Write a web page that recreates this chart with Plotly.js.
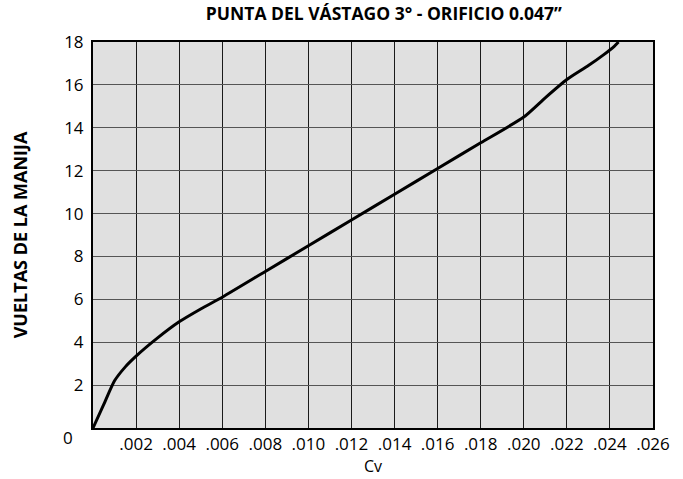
<!DOCTYPE html>
<html>
<head>
<meta charset="utf-8">
<script src="https://cdn.plot.ly/plotly-3.0.1.min.js"></script>
<style>html,body{margin:0;padding:0;background:#fff;}#chart{width:683px;height:479px;}</style>
</head>
<body>
<div id="chart"></div>
<script>
const cv = [0, 0.0005, 0.001, 0.0015, 0.002, 0.003, 0.004, 0.005, 0.006, 0.008, 0.010, 0.012, 0.014, 0.016, 0.018, 0.020, 0.021, 0.022, 0.023, 0.0237, 0.0242, 0.0244];
const vueltas = [0, 1.1, 2.2, 2.85, 3.35, 4.2, 4.95, 5.55, 6.1, 7.3, 8.5, 9.7, 10.9, 12.1, 13.3, 14.5, 15.4, 16.25, 16.9, 17.4, 17.8, 18];
const xTickVals = [0.002, 0.004, 0.006, 0.008, 0.010, 0.012, 0.014, 0.016, 0.018, 0.020, 0.022, 0.024, 0.026];
const xTickText = ['.002', '.004', '.006', '.008', '.010', '.012', '.014', '.016', '.018', '.020', '.022', '.024', '.026'];
const yTickVals = [2, 4, 6, 8, 10, 12, 14, 16, 18];
const titleText = 'PUNTA DEL VÁSTAGO 3° - ORIFICIO 0.047”';
const xTitle = 'Cv';
const yTitle = 'VUELTAS DE LA MANIJA';

const font = 'Open Sans, Noto Sans, sans-serif';
Plotly.newPlot('chart', [{
  x: cv, y: vueltas, mode: 'lines', type: 'scatter',
  line: {color: '#000', width: 3, shape: 'spline', smoothing: 0.6},
  hoverinfo: 'skip', cliponaxis: false
}], {
  width: 683, height: 479,
  margin: {l: 93, r: 30, t: 42, b: 51},
  paper_bgcolor: '#fff', plot_bgcolor: '#e0e0e0',
  showlegend: false,
  title: {text: titleText, font: {family: font, size: 17.5, color: '#000', weight: 'bold'}, x: 0.562, xanchor: 'center', y: 0.97, yanchor: 'middle'},
  xaxis: {
    range: [0, 0.026], tickvals: xTickVals, ticktext: xTickText,
    showgrid: true, gridcolor: '#1a1a1a', gridwidth: 1,
    showline: true, linecolor: '#000', linewidth: 2, mirror: true,
    ticks: '', ticklen: 0, zeroline: false,
    tickfont: {family: font, size: 17, color: '#000'},
    title: {text: xTitle, font: {family: font, size: 16, color: '#000'}, standoff: 6}
  },
  yaxis: {
    range: [0, 18], tickvals: yTickVals,
    showgrid: true, gridcolor: '#555', gridwidth: 1,
    showline: true, linecolor: '#000', linewidth: 2, mirror: true,
    ticks: '', zeroline: false, ticklabelstandoff: 4,
    tickfont: {family: font, size: 17, color: '#000'},
    title: {text: yTitle, font: {family: font, size: 18, color: '#000', weight: 'bold'}, standoff: 32}
  },
  annotations: [{
    text: '0', xref: 'paper', yref: 'paper', x: -0.045, y: -0.025, xanchor: 'center', yanchor: 'middle',
    showarrow: false, font: {family: font, size: 17, color: '#000'}
  }]
}, {staticPlot: true});
</script>
</body>
</html>
